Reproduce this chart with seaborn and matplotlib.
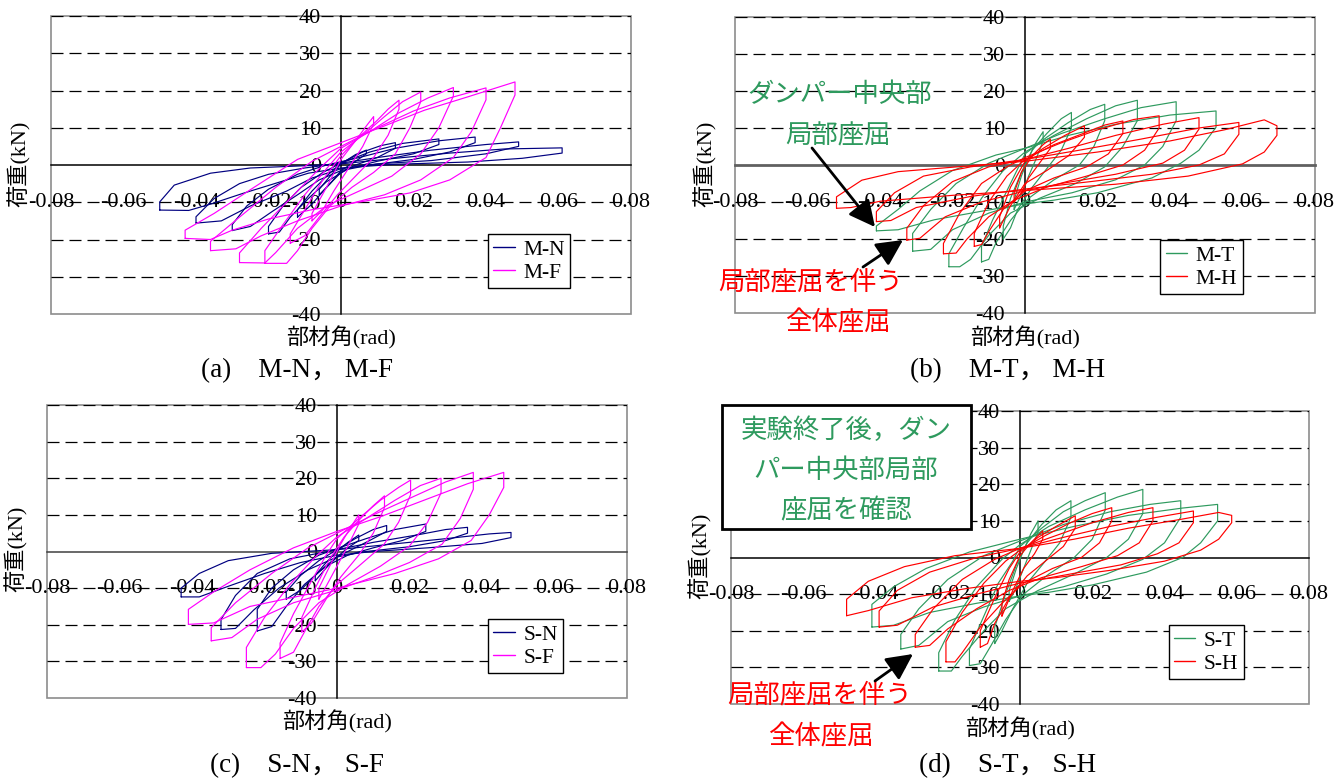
import matplotlib
matplotlib.use("Agg")
import matplotlib.pyplot as plt
from matplotlib.lines import Line2D
from matplotlib.patches import Rectangle, FancyArrowPatch
import pandas as pd
import seaborn as sns

sns.set_theme(style="white")
plt.rcParams['font.family'] = ['Liberation Serif', 'Noto Sans CJK JP']
plt.rcParams['axes.unicode_minus'] = False
for k in ['text.color', 'axes.labelcolor', 'xtick.color', 'ytick.color']:
    plt.rcParams[k] = 'black'

W, H = 1336, 781

# ---------------- axis ticks / labels ----------------
x_ticks = [-0.08, -0.06, -0.04, -0.02, 0, 0.02, 0.04, 0.06, 0.08]
x_tick_labels = ["-0.08", "-0.06", "-0.04", "-0.02", "0", "0.02", "0.04", "0.06", "0.08"]
y_ticks = [-40, -30, -20, -10, 0, 10, 20, 30, 40]
y_tick_labels = ["-40", "-30", "-20", "-10", "0", "10", "20", "30", "40"]
grid_levels = [-30, -20, -10, 10, 20, 30, 40]
x_label = "部材角(rad)"
y_label = "荷重(kN)"

# ---------------- data: hysteresis loops (rad, kN) ----------------
M_N = [
    [(-0.050, -12.1), (-0.050, -9.9), (-0.046, -5.4), (-0.036, -2.2), (-0.025, -0.8), (-0.010, -0.2), (0.0, 0.3), (0.015, 1.8), (0.030, 3.2), (0.045, 4.3), (0.061, 4.6), (0.061, 3.2), (0.050, 1.8), (0.035, 0.8), (0.015, 0.2), (0.0, -0.8), (-0.009, -2.2), (-0.018, -4.9), (-0.027, -7.6), (-0.036, -10.5), (-0.042, -12.2), (-0.050, -12.1)],
    [(-0.040, -15.6), (-0.040, -13.9), (-0.035, -9), (-0.028, -5), (-0.020, -2.5), (-0.010, -0.8), (0.0, 0.5), (0.010, 2), (0.025, 4), (0.040, 5.5), (0.049, 6.2), (0.049, 5), (0.040, 3), (0.025, 1.2), (0.010, 0.3), (0.0, -1), (-0.008, -3.5), (-0.015, -7), (-0.025, -11), (-0.033, -15), (-0.040, -15.6)],
    [(-0.030, -17.6), (-0.030, -16), (-0.026, -11), (-0.020, -6.5), (-0.012, -2.5), (-0.004, 0), (0.005, 2), (0.015, 4.5), (0.027, 6.5), (0.037, 7.5), (0.037, 6), (0.030, 3.5), (0.020, 1.5), (0.008, 0), (0.0, -1.5), (-0.006, -4), (-0.012, -8), (-0.019, -12.5), (-0.025, -16.5), (-0.030, -17.6)],
    [(-0.020, -18.5), (-0.020, -16.5), (-0.016, -11), (-0.011, -6), (-0.005, -2), (0.0, 0.5), (0.008, 3.5), (0.017, 5.8), (0.027, 7.0), (0.027, 5.5), (0.020, 3), (0.010, 1), (0.002, -1), (-0.004, -4.5), (-0.009, -9), (-0.014, -14), (-0.017, -18), (-0.020, -18.5)],
    [(-0.012, -14), (-0.012, -12), (-0.008, -7), (-0.004, -3), (0.0, 0.5), (0.006, 3.5), (0.011, 5.2), (0.015, 6), (0.015, 4.5), (0.010, 2), (0.004, 0), (0.0, -2), (-0.004, -6), (-0.008, -10.5), (-0.012, -14)],
    [(-0.006, -8), (-0.006, -6.5), (-0.003, -3), (0.0, 0.3), (0.004, 2.8), (0.007, 4), (0.007, 3), (0.004, 1), (0.0, -1.5), (-0.003, -5), (-0.006, -8)],
]
M_F = [
    [(-0.043, -19.7), (-0.043, -17.5), (-0.035, -13), (-0.024, -6), (-0.012, 1.5), (0.0, 6), (0.012, 10.5), (0.023, 14.7), (0.035, 18.3), (0.048, 22.3), (0.048, 18.8), (0.044, 10), (0.040, 2), (0.030, -4), (0.019, -7.5), (0.006, -9.8), (-0.008, -12), (-0.020, -14.5), (-0.030, -17.5), (-0.036, -20.0), (-0.043, -19.7)],
    [(-0.036, -23.0), (-0.036, -20.5), (-0.028, -14), (-0.018, -6), (-0.008, 1), (0.0, 5), (0.010, 10), (0.020, 14.5), (0.030, 18), (0.040, 20.7), (0.040, 17.5), (0.036, 9), (0.031, 2), (0.022, -4), (0.012, -8), (0.0, -11), (-0.012, -15), (-0.022, -19), (-0.029, -22.5), (-0.036, -23.0)],
    [(-0.028, -26.2), (-0.028, -23.6), (-0.022, -17), (-0.014, -9), (-0.006, -1), (0.0, 4.5), (0.008, 9), (0.016, 14), (0.024, 18), (0.031, 20.8), (0.031, 18.5), (0.027, 10), (0.022, 3), (0.014, -3), (0.005, -7), (-0.004, -11), (-0.012, -17), (-0.018, -23.5), (-0.021, -26.3), (-0.028, -26.2)],
    [(-0.021, -26.4), (-0.021, -23), (-0.016, -16), (-0.010, -8), (-0.004, -1), (0.0, 3.5), (0.006, 8), (0.012, 13), (0.017, 17), (0.022, 19.6), (0.022, 17), (0.019, 10), (0.015, 3), (0.009, -2), (0.003, -6), (-0.003, -11), (-0.008, -17), (-0.012, -23), (-0.015, -26.4), (-0.021, -26.4)],
    [(-0.014, -21), (-0.014, -18.5), (-0.010, -12), (-0.005, -4), (0.0, 2.5), (0.005, 7.5), (0.010, 12), (0.013, 15), (0.016, 17.4), (0.016, 15), (0.013, 8), (0.009, 2), (0.004, -3), (-0.001, -8), (-0.006, -14), (-0.010, -19), (-0.014, -21)],
    [(-0.008, -15), (-0.008, -13), (-0.004, -6), (0.0, 1.5), (0.004, 6.5), (0.007, 10.5), (0.009, 13), (0.009, 11), (0.006, 5), (0.002, -1), (-0.002, -7), (-0.005, -12), (-0.008, -15)],
]
M_T = [
    [(-0.041, -17.8), (-0.041, -16.5), (-0.035, -12), (-0.029, -7), (-0.020, -1.5), (-0.008, 2.7), (0.0, 4.5), (0.012, 8), (0.025, 11), (0.040, 13.5), (0.0527, 14.6), (0.0527, 10.2), (0.048, 4), (0.043, 0.5), (0.035, -3.5), (0.020, -7.5), (0.008, -9.5), (0.0, -10.5), (-0.012, -12.5), (-0.025, -14.8), (-0.035, -17.5), (-0.041, -17.8)],
    [(-0.031, -23.3), (-0.031, -18.5), (-0.026, -12), (-0.019, -5), (-0.010, 0.5), (0.0, 4.5), (0.010, 8.5), (0.022, 12.5), (0.032, 15.5), (0.0417, 17.1), (0.0417, 12), (0.038, 5), (0.033, 0), (0.025, -4), (0.013, -7.5), (0.0, -10), (-0.010, -13), (-0.020, -17.5), (-0.026, -22.8), (-0.031, -23.3)],
    [(-0.021, -27.5), (-0.021, -24), (-0.017, -17), (-0.012, -9), (-0.006, -1.5), (0.0, 3.5), (0.008, 8), (0.017, 12.5), (0.025, 16), (0.031, 17.5), (0.031, 12), (0.027, 5), (0.022, -0.5), (0.014, -5), (0.004, -9), (-0.004, -13), (-0.010, -19), (-0.015, -25.5), (-0.018, -27.5), (-0.021, -27.5)],
    [(-0.012, -26.2), (-0.012, -22), (-0.009, -15), (-0.005, -7), (-0.002, -1), (0.0, 3), (0.006, 7.5), (0.012, 11.5), (0.018, 15), (0.022, 16.4), (0.022, 12), (0.019, 5), (0.015, 0), (0.008, -4), (0.001, -9), (-0.004, -15), (-0.008, -21), (-0.010, -25.5), (-0.012, -26.2)],
    [(-0.006, -20), (-0.006, -16.5), (-0.004, -9), (-0.001, -2), (0.002, 4), (0.006, 8.5), (0.010, 12.5), (0.0128, 14.2), (0.0128, 10), (0.010, 4), (0.006, -1), (0.002, -6), (-0.002, -12), (-0.004, -17), (-0.006, -20)],
    [(-0.003, -12), (-0.003, -9.5), (-0.001, -3), (0.001, 2), (0.003, 6), (0.005, 9), (0.005, 6.5), (0.003, 1.5), (0.001, -3), (-0.001, -8), (-0.003, -12)],
]
M_H = [
    [(-0.052, -11.7), (-0.052, -8.6), (-0.045, -4.1), (-0.035, -1.8), (-0.020, -0.6), (0.0, 1), (0.020, 3.5), (0.040, 6.5), (0.055, 9.5), (0.066, 12.2), (0.0695, 10.6), (0.0695, 8), (0.066, 3.5), (0.060, 0.3), (0.045, -3), (0.025, -5.2), (0.0, -6.9), (-0.020, -8.2), (-0.040, -9.8), (-0.048, -11.5), (-0.052, -11.7)],
    [(-0.041, -15.3), (-0.041, -12.6), (-0.036, -7.5), (-0.028, -3), (-0.015, -0.5), (0.0, 1.5), (0.015, 4), (0.032, 7), (0.048, 10), (0.059, 11.5), (0.059, 8.3), (0.055, 3), (0.048, 0), (0.035, -2.5), (0.018, -4.5), (0.0, -6.5), (-0.015, -8.5), (-0.030, -11.5), (-0.037, -15), (-0.041, -15.3)],
    [(-0.0326, -20.3), (-0.0326, -17.1), (-0.028, -11), (-0.020, -4.5), (-0.010, -0.5), (0.0, 1.5), (0.012, 4.5), (0.025, 8), (0.038, 11), (0.048, 12.8), (0.048, 9.7), (0.044, 4), (0.038, 0.5), (0.025, -2.5), (0.010, -5), (0.0, -7), (-0.012, -10), (-0.022, -14), (-0.029, -19.8), (-0.0326, -20.3)],
    [(-0.0225, -24), (-0.0225, -21.2), (-0.018, -13), (-0.012, -5), (-0.005, -0.5), (0.0, 2), (0.010, 6), (0.020, 9.5), (0.030, 12.3), (0.037, 13.3), (0.037, 10), (0.033, 4), (0.027, 0), (0.017, -3), (0.006, -6), (-0.003, -9.5), (-0.010, -14), (-0.016, -20), (-0.019, -23.8), (-0.0225, -24)],
    [(-0.014, -22), (-0.014, -18.5), (-0.010, -10), (-0.005, -3), (0.0, 1.5), (0.008, 5.5), (0.016, 8.5), (0.022, 10.8), (0.027, 11.9), (0.027, 8.5), (0.023, 3), (0.017, -0.5), (0.008, -3.5), (0.0, -7), (-0.006, -12), (-0.010, -18), (-0.012, -21.5), (-0.014, -22)],
    [(-0.007, -17), (-0.007, -14), (-0.004, -6), (0.0, 1), (0.005, 4.5), (0.011, 8), (0.0164, 10.6), (0.0164, 7.5), (0.012, 2.5), (0.006, -1.5), (0.0, -5), (-0.004, -11), (-0.007, -17)],
    [(-0.003, -10), (-0.003, -7.5), (-0.001, -2), (0.002, 2.5), (0.005, 5.5), (0.007, 7), (0.007, 4.5), (0.004, 0.5), (0.001, -3.5), (-0.001, -7.5), (-0.003, -10)],
]
S_N = [
    [(-0.043, -12.4), (-0.043, -10), (-0.038, -6), (-0.030, -2.5), (-0.018, -0.5), (0.0, 0.5), (0.015, 2), (0.030, 3.5), (0.042, 4.8), (0.048, 5.2), (0.048, 3.8), (0.040, 2.2), (0.025, 1), (0.010, 0), (0.0, -1), (-0.010, -3), (-0.020, -6), (-0.030, -9.5), (-0.038, -12.4), (-0.043, -12.4)],
    [(-0.032, -21.3), (-0.032, -18.6), (-0.028, -12), (-0.022, -6), (-0.013, -2), (0.0, 0.5), (0.010, 2.5), (0.022, 4.5), (0.030, 6), (0.036, 6.6), (0.036, 5), (0.030, 3), (0.020, 1.3), (0.008, 0), (0.0, -1.5), (-0.008, -5), (-0.016, -10), (-0.023, -16), (-0.028, -21), (-0.032, -21.3)],
    [(-0.022, -21.7), (-0.022, -15.8), (-0.018, -10), (-0.012, -5), (-0.005, -1), (0.0, 0.8), (0.008, 3.5), (0.016, 6), (0.0245, 7.5), (0.0245, 5.5), (0.018, 3), (0.010, 1), (0.003, -1), (-0.003, -4), (-0.009, -9), (-0.014, -15), (-0.018, -20.5), (-0.022, -21.7)],
    [(-0.014, -13), (-0.014, -11), (-0.010, -6.5), (-0.005, -2.5), (0.0, 0.5), (0.005, 3.5), (0.010, 6), (0.0137, 7.1), (0.0137, 5.5), (0.009, 3), (0.004, 0.5), (0.0, -1.5), (-0.005, -5.5), (-0.010, -10.5), (-0.014, -13)],
    [(-0.006, -8), (-0.006, -6.5), (-0.003, -3), (0.0, 0), (0.003, 2.5), (0.006, 4.5), (0.006, 3), (0.003, 1), (0.0, -1.5), (-0.003, -4.5), (-0.006, -8)],
]
S_F = [
    [(-0.041, -19.9), (-0.041, -15.8), (-0.034, -11), (-0.024, -5), (-0.012, 1), (0.0, 5.5), (0.012, 9.5), (0.024, 14), (0.036, 18.5), (0.046, 21.6), (0.046, 17.5), (0.042, 10), (0.037, 3), (0.028, -2), (0.016, -6), (0.0, -10), (-0.012, -12.5), (-0.024, -15), (-0.034, -19.5), (-0.041, -19.9)],
    [(-0.0347, -24.4), (-0.0347, -20.8), (-0.028, -14), (-0.018, -6), (-0.008, 1), (0.0, 5), (0.010, 10), (0.020, 14.5), (0.030, 19), (0.0376, 21.6), (0.0376, 17), (0.034, 9), (0.029, 2), (0.020, -3), (0.010, -7), (0.0, -10.5), (-0.012, -14), (-0.022, -18.5), (-0.029, -23.5), (-0.0347, -24.4)],
    [(-0.025, -31.7), (-0.025, -26.2), (-0.020, -18), (-0.013, -9), (-0.006, -1.5), (0.0, 4), (0.008, 9), (0.016, 14), (0.023, 18), (0.0287, 20), (0.0287, 16), (0.025, 8), (0.020, 1.5), (0.012, -4), (0.003, -9), (-0.005, -14), (-0.012, -21), (-0.017, -28), (-0.021, -31.7), (-0.025, -31.7)],
    [(-0.0157, -29.2), (-0.0157, -25), (-0.012, -17), (-0.007, -8), (-0.003, -1), (0.0, 3.5), (0.006, 9), (0.012, 14), (0.017, 17.5), (0.0203, 19.5), (0.0203, 15.5), (0.017, 8), (0.013, 2), (0.006, -4), (0.0, -9), (-0.005, -15), (-0.009, -22), (-0.012, -27.5), (-0.0157, -29.2)],
    [(-0.0097, -22), (-0.0097, -18), (-0.006, -10), (-0.002, -2), (0.002, 4), (0.006, 8.5), (0.010, 12.5), (0.0131, 15.2), (0.0131, 12), (0.010, 5), (0.006, -1), (0.001, -7), (-0.003, -13), (-0.007, -19.5), (-0.0097, -22)],
    [(-0.005, -13), (-0.005, -10), (-0.002, -4), (0.001, 2), (0.004, 7), (0.006, 10), (0.006, 7.5), (0.003, 1.5), (0.0, -4), (-0.003, -9.5), (-0.005, -13)],
]
S_T = [
    [(-0.041, -19), (-0.041, -12.8), (-0.035, -8), (-0.026, -3), (-0.014, 1.5), (0.0, 5), (0.015, 8.5), (0.030, 11.5), (0.045, 13.5), (0.0547, 14.5), (0.0547, 10), (0.050, 4), (0.045, 0), (0.035, -4), (0.020, -7.5), (0.008, -9.5), (0.0, -10.5), (-0.012, -12.5), (-0.025, -15), (-0.035, -18.5), (-0.041, -19)],
    [(-0.033, -25), (-0.033, -21), (-0.028, -14), (-0.020, -6), (-0.010, 0.5), (0.0, 4.5), (0.012, 9), (0.025, 12.5), (0.036, 14.5), (0.0445, 15.5), (0.0445, 11), (0.040, 4), (0.034, -0.5), (0.024, -4.5), (0.012, -8), (0.0, -10.5), (-0.010, -13.5), (-0.020, -17.5), (-0.028, -24), (-0.033, -25)],
    [(-0.0225, -31), (-0.0225, -26), (-0.018, -17), (-0.012, -8), (-0.005, -0.5), (0.0, 3.5), (0.008, 8.5), (0.018, 13), (0.027, 16.5), (0.034, 18.6), (0.034, 12), (0.030, 5), (0.024, 0), (0.015, -4.5), (0.005, -9), (-0.004, -14), (-0.010, -20), (-0.016, -27), (-0.019, -31), (-0.0225, -31)],
    [(-0.014, -29.5), (-0.014, -25), (-0.010, -16), (-0.006, -7), (-0.002, -1), (0.0, 3), (0.006, 8), (0.012, 12.5), (0.018, 15.5), (0.0236, 17.7), (0.0236, 13), (0.020, 5), (0.015, 0), (0.008, -4.5), (0.001, -10), (-0.004, -17), (-0.008, -24), (-0.011, -29), (-0.014, -29.5)],
    [(-0.007, -23.5), (-0.007, -19), (-0.004, -10), (-0.001, -2), (0.002, 4), (0.006, 9), (0.010, 13), (0.0141, 15.5), (0.0141, 11), (0.011, 4), (0.007, -1), (0.002, -7), (-0.002, -14), (-0.005, -20), (-0.007, -23.5)],
    [(-0.003, -12), (-0.003, -9), (-0.001, -3), (0.001, 2), (0.003, 6.5), (0.005, 10), (0.005, 7), (0.003, 2), (0.001, -3), (-0.001, -8), (-0.003, -12)],
]
S_H = [
    [(-0.048, -15.9), (-0.048, -11.4), (-0.042, -6.5), (-0.032, -2.5), (-0.018, 0.5), (0.0, 2.5), (0.015, 5), (0.030, 8), (0.045, 10.5), (0.055, 12.3), (0.0586, 11.5), (0.0586, 9.5), (0.055, 5), (0.050, 2), (0.040, -1), (0.025, -3.5), (0.010, -5.5), (0.0, -6.5), (-0.015, -8.5), (-0.030, -11), (-0.042, -14.5), (-0.048, -15.9)],
    [(-0.039, -19), (-0.039, -14.6), (-0.034, -9), (-0.025, -4), (-0.012, 0), (0.0, 2.5), (0.012, 5.5), (0.025, 8.5), (0.038, 11), (0.048, 12.7), (0.048, 9.5), (0.044, 4), (0.038, 1), (0.028, -2), (0.014, -4.5), (0.0, -7), (-0.012, -10), (-0.024, -13.5), (-0.034, -18.5), (-0.039, -19)],
    [(-0.029, -24.5), (-0.029, -21), (-0.024, -14), (-0.016, -6), (-0.007, -0.5), (0.0, 2.5), (0.010, 6), (0.020, 9.5), (0.030, 12.3), (0.0368, 13.6), (0.0368, 10), (0.033, 4), (0.027, 0.5), (0.017, -2.5), (0.006, -5.5), (-0.003, -9), (-0.012, -14), (-0.020, -19.5), (-0.025, -24), (-0.029, -24.5)],
    [(-0.0205, -28.5), (-0.0205, -23), (-0.016, -15), (-0.010, -7), (-0.004, -1), (0.0, 2), (0.007, 6), (0.014, 9.5), (0.020, 12), (0.0254, 13.6), (0.0254, 10), (0.022, 4), (0.017, 0), (0.009, -3), (0.001, -7), (-0.005, -12.5), (-0.011, -19), (-0.016, -26), (-0.018, -28.5), (-0.0205, -28.5)],
    [(-0.011, -24.5), (-0.011, -20), (-0.007, -11), (-0.003, -3), (0.0, 1.5), (0.005, 5.5), (0.010, 8.5), (0.0153, 11.4), (0.0153, 8), (0.012, 3), (0.007, -1), (0.002, -5), (-0.003, -11), (-0.007, -18), (-0.009, -23.5), (-0.011, -24.5)],
    [(-0.005, -16), (-0.005, -12.5), (-0.003, -6), (0.0, 0.5), (0.003, 4), (0.0063, 7.3), (0.0063, 5), (0.004, 1), (0.001, -3), (-0.002, -9), (-0.005, -16)],
]

NAVY, MAGENTA, GREEN, RED = "#000080", "#FF00FF", "#2E9A5E", "#FF0000"

panels = [
    dict(box=(51, 16, 631, 314), series=[("M-N", M_N, NAVY), ("M-F", M_F, MAGENTA)],
         leg=(0.753, 0.086), caption="(a)\u3000M-N， M-F", cap=(297, 371), xl=(341, 338), yl=(19, 164),
         xaxis=("black", 1.1)),
    dict(box=(735, 17, 1315, 313), series=[("M-T", M_T, GREEN), ("M-H", M_H, RED)],
         leg=(0.733, 0.063), caption="(b)\u3000M-T， M-H", cap=(1008, 371), xl=(1025, 338), yl=(705, 164),
         xaxis=("#606060", 2.0)),
    dict(box=(47, 405, 627, 698), series=[("S-N", S_N, NAVY), ("S-F", S_F, MAGENTA)],
         leg=(0.760, 0.084), caption="(c)\u3000S-N， S-F", cap=(297, 766), xl=(337, 722), yl=(16, 549),
         xaxis=("#404040", 1.1)),
    dict(box=(731, 411, 1309, 704), series=[("S-T", S_T, GREEN), ("S-H", S_H, RED)],
         leg=(0.757, 0.084), caption="(d)\u3000S-T， S-H", cap=(1008, 766), xl=(1020, 729), yl=(700, 556),
         xaxis=("black", 1.1)),
]


def loops_frame(loops):
    rows = []
    for i, loop in enumerate(loops):
        for j, (x, y) in enumerate(loop):
            rows.append((i, j, x, y))
    return pd.DataFrame(rows, columns=["loop", "order", "x", "y"])


def fx(px):
    return px / W


def fy(py):
    return 1 - py / H


fig = plt.figure(figsize=(W / 100, H / 100), dpi=100)

for p in panels:
    x0, y0, x1, y1 = p["box"]
    ax = fig.add_axes([x0 / W, 1 - y1 / H, (x1 - x0) / W, (y1 - y0) / H])
    ax.set_xlim(-0.08, 0.08)
    ax.set_ylim(-40, 40)
    ax.add_patch(Rectangle((0, 0), 1, 1, transform=ax.transAxes, fill=False,
                           edgecolor="#8c8c8c", lw=1.2, zorder=0.5, clip_on=False))
    for g in grid_levels:
        ax.axhline(g, color="black", lw=0.9, ls=(0, (9.6, 4.8)), zorder=1)
    for name, loops, col in p["series"]:
        df = loops_frame(loops)
        sns.lineplot(data=df, x="x", y="y", units="loop", estimator=None, sort=False,
                     color=col, lw=0.85, ax=ax, legend=False, zorder=3)
    ax.set_xlabel("")
    ax.set_ylabel("")
    for s in ["top", "right"]:
        ax.spines[s].set_visible(False)
    for s in ["left", "bottom"]:
        ax.spines[s].set_position(("data", 0))
        ax.spines[s].set_zorder(2)
    ax.spines["left"].set_color("black")
    ax.spines["left"].set_linewidth(1.1)
    ax.spines["bottom"].set_color(p["xaxis"][0])
    ax.spines["bottom"].set_linewidth(p["xaxis"][1])
    ax.set_xticks(x_ticks)
    ax.set_xticklabels(x_tick_labels)
    ax.set_yticks(y_ticks)
    ax.set_yticklabels(y_tick_labels)
    ax.tick_params(axis="x", direction="in", length=5, width=1, pad=20, labelsize=16)
    ax.tick_params(axis="y", direction="inout", length=6, width=1, pad=11.5, labelsize=16)
    handles = [Line2D([0], [0], color=c, lw=1.0) for _, _, c in p["series"]]
    labels = [n for n, _, _ in p["series"]]
    leg = ax.legend(handles, labels, loc="lower left", bbox_to_anchor=p["leg"], borderaxespad=0,
                    frameon=True, fancybox=False, edgecolor="black", framealpha=1, fontsize=15.5,
                    handlelength=1.0, handletextpad=0.4, borderpad=0.25, labelspacing=0.15)
    leg.get_frame().set_linewidth(1.0)
    leg.set_zorder(5)
    fig.text(fx(p["xl"][0]), fy(p["xl"][1]), x_label, ha="center", va="center", fontsize=16)
    fig.text(fx(p["yl"][0]), fy(p["yl"][1]), y_label, ha="center", va="center", fontsize=16, rotation=90)
    fig.text(fx(p["cap"][0]), fy(p["cap"][1]), p["caption"], ha="center", va="center", fontsize=19.5)

# ---------------- annotations ----------------
ANN = 19
fig.text(fx(840), fy(95), "ダンパー中央部", color=GREEN, ha="center", va="center", fontsize=ANN)
fig.text(fx(838), fy(136), "局部座屈", color=GREEN, ha="center", va="center", fontsize=ANN)
fig.text(fx(811), fy(282), "局部座屈を伴う", color=RED, ha="center", va="center", fontsize=ANN)
fig.text(fx(838), fy(323), "全体座屈", color=RED, ha="center", va="center", fontsize=ANN)

fig.add_artist(Rectangle((fx(722), fy(529)), (971 - 722) / W, (529 - 405) / H, transform=fig.transFigure,
                         facecolor="white", edgecolor="black", lw=2, zorder=6))
fig.text(fx(846), fy(430), "実験終了後，ダン", color=GREEN, ha="center", va="center", fontsize=ANN, zorder=7)
fig.text(fx(846), fy(471), "パー中央部局部", color=GREEN, ha="center", va="center", fontsize=ANN, zorder=7)
fig.text(fx(846), fy(511), "座屈を確認", color=GREEN, ha="center", va="center", fontsize=ANN, zorder=7)
fig.text(fx(820), fy(695), "局部座屈を伴う", color=RED, ha="center", va="center", fontsize=ANN)
fig.text(fx(821), fy(737), "全体座屈", color=RED, ha="center", va="center", fontsize=ANN)

arrow_kw = dict(arrowstyle="-|>,head_length=0.8,head_width=0.4", color="black", lw=2,
                mutation_scale=20, shrinkA=0, shrinkB=0)
for (tx, ty), (hx, hy) in [((812, 148), (875, 227)), ((863, 267), (903, 240)), ((875, 681), (913, 654))]:
    fig.add_artist(FancyArrowPatch((fx(tx), fy(ty)), (fx(hx), fy(hy)),
                                   transform=fig.transFigure, zorder=8, **arrow_kw))

fig.savefig("out.png", dpi=100)
